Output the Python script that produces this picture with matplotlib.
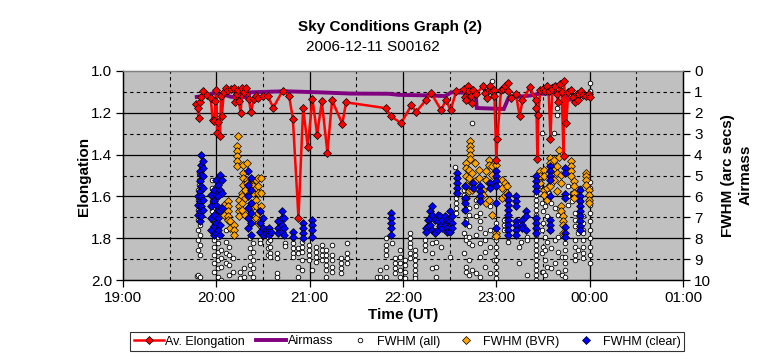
import matplotlib
matplotlib.use("Agg")
import matplotlib.pyplot as plt
from matplotlib.lines import Line2D

plt.rcParams['font.family'] = ['Liberation Sans', 'DejaVu Sans']

# ---------------- data ----------------
# Average elongation (left axis), time in decimal hours UT (24 = 00:00)
elong_t = [19.78, 19.80, 19.81, 19.82, 19.84, 19.86, 19.90, 19.94, 19.96, 19.98, 19.99, 20.00,
           20.01, 20.02, 20.04, 20.05, 20.06, 20.08, 20.10, 20.13, 20.16, 20.19, 20.20, 20.22,
           20.23, 20.24, 20.26, 20.28, 20.30, 20.32, 20.35, 20.37, 20.40, 20.43, 20.45, 20.50,
           20.55, 20.61, 20.71, 20.78, 20.82, 20.88, 20.93, 20.98, 21.03, 21.08, 21.13, 21.19,
           21.24, 21.35, 21.39, 21.82, 21.87, 21.98, 22.09, 22.14, 22.25, 22.30, 22.41, 22.46,
           22.51, 22.57, 22.65, 22.66, 22.68, 22.70, 22.71, 22.73, 22.74, 22.75, 22.78, 22.86,
           22.88, 22.90, 22.92, 22.93, 22.95, 22.97, 22.98, 23.00, 23.01, 23.05, 23.07, 23.09,
           23.12, 23.13, 23.16, 23.21, 23.25, 23.28, 23.36, 23.42, 23.43, 23.44, 23.45, 23.47,
           23.50, 23.52, 23.54, 23.56, 23.58, 23.60, 23.63, 23.65, 23.66, 23.68, 23.70, 23.72,
           23.725, 23.75, 23.77, 23.80, 23.82, 23.84, 23.86, 23.88, 23.89, 23.91, 23.93, 23.96,
           23.99, 24.00]
elong_v = [1.157, 1.178, 1.227, 1.150, 1.125, 1.097, 1.115, 1.128, 1.233, 1.240, 1.145, 1.092,
           1.295, 1.245, 1.312, 1.120, 1.215, 1.100, 1.082, 1.090, 1.085, 1.080, 1.150, 1.110,
           1.092, 1.145, 1.200, 1.080, 1.100, 1.080, 1.135, 1.198, 1.135, 1.120, 1.128, 1.122,
           1.120, 1.175, 1.095, 1.120, 1.228, 1.703, 1.178, 1.362, 1.132, 1.305, 1.145, 1.390,
           1.141, 1.252, 1.150, 1.178, 1.217, 1.249, 1.164, 1.196, 1.137, 1.105, 1.188, 1.137,
           1.188, 1.097, 1.084, 1.125, 1.141, 1.073, 1.097, 1.120, 1.153, 1.090, 1.110, 1.073,
           1.105, 1.129, 1.090, 1.073, 1.097, 1.090, 1.120, 1.425, 1.325, 1.093, 1.084, 1.073,
           1.056, 1.097, 1.130, 1.110, 1.217, 1.141, 1.077, 1.140, 1.177, 1.423, 1.209, 1.090,
           1.084, 1.097, 1.073, 1.097, 1.323, 1.084, 1.073, 1.110, 1.150, 1.060, 1.100, 1.405,
           1.049, 1.249, 1.100, 1.090, 1.125, 1.150, 1.110, 1.140, 1.110, 1.097, 1.115, 1.120,
           1.110, 1.125]

# Airmass (right axis)
airmass_t = [19.79, 19.90, 19.97, 20.02, 20.06, 20.16, 20.34, 20.36, 20.74, 21.10, 21.44,
             21.85, 21.95, 22.29, 22.45, 22.52, 22.75, 22.78, 22.79, 23.08, 23.13, 23.40,
             23.44, 23.75, 23.77, 23.88, 23.90, 24.00]
airmass_v = [1.24, 1.18, 1.05, 1.16, 1.10, 1.24, 1.24, 1.02, 0.97, 1.02, 1.08,
             1.09, 1.14, 1.17, 1.20, 1.02, 1.05, 1.20, 1.77, 1.82, 1.29, 1.15,
             1.10, 1.05, 1.37, 1.37, 1.10, 1.13]

# FWHM (all) -- columns of (time, [values])
fwhm_all = [
    (19.79, [9.80]),
    (19.80, [5.68, 6.16, 6.64, 7.12, 7.60, 8.08, 8.56, 9.77]),
    (19.81, [4.90, 5.20, 5.45]),
    (19.82, [5.92, 6.40, 6.88, 7.36, 7.84, 8.32, 8.80, 9.88]),
    (19.95, [5.20, 5.60, 6.24, 6.72, 7.12]),
    (19.98, [7.28, 7.68, 8.08, 8.40, 8.80, 9.20, 9.60]),
    (20.02, [7.36, 7.92, 8.24, 8.64, 9.04, 9.44, 9.84]),
    (20.05, [8.56, 8.96, 9.36, 10.0]),
    (20.10, [7.60, 8.16, 8.72, 9.20]),
    (20.14, [8.40, 8.80, 9.28, 9.76]),
    (20.18, [8.96, 9.60]),
    (20.25, [9.60, 9.92]),
    (20.30, [9.44, 9.84]),
    (20.36, [8.00, 8.48, 8.88, 9.28, 9.68]),
    (20.39, [8.24, 8.64, 9.04, 9.44, 9.84]),
    (20.47, [7.44, 7.68, 8.08, 8.24]),
    (20.55, [7.92, 8.16, 8.48, 8.80]),
    (20.58, [8.08, 8.40, 8.72, 8.88]),
    (20.65, [8.72, 8.96, 9.68, 9.84]),
    (20.74, [8.24, 8.36]),
    (20.82, [8.00, 8.24, 8.48, 8.72, 8.88]),
    (20.88, [8.48, 8.72, 9.40, 9.84]),
    (20.92, [8.16, 8.40, 8.64, 9.04, 9.52]),
    (20.99, [8.32, 8.56, 8.80, 9.04]),
    (21.02, [9.52]),
    (21.07, [8.40, 8.64, 8.88, 9.12]),
    (21.13, [8.32, 8.56, 8.80, 9.04]),
    (21.18, [8.56, 8.80, 9.04, 9.28, 9.52, 9.84]),
    (21.24, [8.32, 8.80, 9.04, 9.36, 9.60]),
    (21.34, [8.96, 9.20, 9.44, 9.68]),
    (21.40, [8.24, 8.72, 8.96, 9.20]),
    (21.72, [9.88]),
    (21.75, [9.52, 9.84]),
    (21.82, [8.00, 8.32, 8.56, 8.80, 9.40, 9.84]),
    (21.88, [8.24]),
    (21.91, [8.96, 9.20, 9.44, 9.68]),
    (21.97, [8.56, 8.88, 9.20, 9.52, 9.84]),
    (22.02, [9.04, 9.28, 9.60, 9.92]),
    (22.08, [7.76, 8.00, 8.24, 8.40, 8.72, 8.96]),
    (22.13, [8.56, 8.80, 9.04, 9.28, 9.52, 9.76, 9.92]),
    (22.24, [8.08, 8.32, 8.56]),
    (22.31, [8.24, 8.72, 9.44]),
    (22.35, [8.16, 9.36, 9.84]),
    (22.41, [8.40]),
    (22.50, [8.88]),
    (22.56, [4.58]),
    (22.57, [5.84, 6.08, 6.32, 6.56, 6.80]),
    (22.65, [5.68, 5.92, 6.16, 6.64, 7.76, 8.72]),
    (22.68, [6.40, 7.12, 7.92, 8.08, 9.36, 9.60]),
    (22.71, [6.56, 6.88, 7.44, 7.92, 8.24, 9.04, 9.76]),
    (22.74, [2.50, 8.32, 9.52]),
    (22.78, [6.16, 6.48, 6.96, 7.84, 9.68]),
    (22.83, [6.80, 7.20, 7.52, 8.24, 8.88, 9.84]),
    (22.88, [7.76, 8.08, 8.64, 9.36]),
    (22.93, [6.48, 7.60, 8.40, 9.68]),
    (22.95, [0.50]),
    (22.97, [6.96, 7.92, 9.04]),
    (23.00, [7.28, 8.08, 8.40, 8.72, 9.04, 9.36, 9.68, 9.92]),
    (23.08, [7.12, 7.36, 7.60]),
    (23.13, [7.92, 8.16]),
    (23.24, [8.40, 9.20]),
    (23.26, [8.16]),
    (23.33, [7.92, 8.08, 9.76]),
    (23.43, [5.68, 5.92, 6.16, 6.40, 6.64, 6.88, 7.12, 7.36, 7.60, 7.84, 8.08, 8.32,
             8.56, 8.80, 9.04, 9.28, 9.52, 9.76, 10.0]),
    (23.47, [5.20, 5.50]),
    (23.49, [2.97, 6.32, 7.60, 8.72, 9.60]),
    (23.50, [6.72, 7.28, 8.40, 9.60]),
    (23.52, [6.48, 7.92, 8.56, 9.04, 9.76]),
    (23.54, [6.96, 8.16, 9.36]),
    (23.56, [5.44, 5.84]),
    (23.59, [6.32, 7.60, 8.48, 9.44]),
    (23.60, [4.90, 5.36]),
    (23.61, [0.70]),
    (23.62, [2.97]),
    (23.63, [6.56, 8.08, 9.20]),
    (23.65, [1.77, 2.09]),
    (23.66, [6.88, 7.92, 8.64, 9.60]),
    (23.70, [6.80, 8.88, 9.76]),
    (23.74, [7.92, 8.24, 8.56, 8.88, 9.20, 9.52, 9.84]),
    (23.77, [5.52, 6.00, 6.40]),
    (23.81, [5.84, 6.24]),
    (23.84, [6.80, 7.12, 7.44, 8.08, 8.40, 8.80, 9.04]),
    (23.87, [7.76, 8.56]),
    (23.90, [5.60, 6.16, 6.48]),
    (23.93, [6.96, 7.28, 7.60, 7.76, 8.08, 8.40, 8.72, 8.96]),
    (24.00, [0.57, 0.97, 5.30, 5.60, 6.00, 6.40, 6.80, 7.20, 7.60, 8.00, 8.40, 8.80, 9.20]),
]

# FWHM (BVR)
fwhm_bvr = [
    (20.08, [6.40, 6.90]),
    (20.12, [6.24, 6.48, 6.72, 6.96, 7.12]),
    (20.15, [7.20, 7.50]),
    (20.19, [7.36, 7.60, 7.84]),
    (20.22, [3.61, 3.85, 4.08, 4.32, 4.53]),
    (20.235, [3.13]),
    (20.24, [6.16, 6.48, 6.72, 6.96]),
    (20.27, [5.84, 6.00, 6.32, 6.64]),
    (20.29, [4.48, 4.88, 5.12, 5.44]),
    (20.31, [5.68, 6.08, 6.88]),
    (20.33, [4.40, 5.20, 5.36]),
    (20.39, [5.20, 5.52, 5.84, 6.48]),
    (20.42, [5.20, 5.60, 6.16, 6.48, 7.04]),
    (20.45, [5.12, 5.52, 5.84, 6.80, 7.28]),
    (20.48, [5.12, 5.84, 6.48, 7.12]),
    (22.68, [4.40, 4.64, 5.04, 5.44, 6.08]),
    (22.71, [4.72, 5.12, 5.76]),
    (22.72, [3.37, 3.57, 3.77, 4.00, 4.21]),
    (22.74, [4.88, 5.36, 5.68]),
    (22.77, [4.40, 5.28]),
    (22.81, [4.72, 5.12, 6.08]),
    (22.86, [5.68, 5.92]),
    (22.89, [4.80, 5.20, 6.32]),
    (22.92, [4.24, 4.48, 5.36, 6.16]),
    (22.95, [4.56, 4.96, 5.52, 6.88]),
    (23.00, [4.48, 7.76, 7.88]),
    (23.06, [5.20, 5.60, 6.08]),
    (23.09, [5.36, 5.92]),
    (23.11, [5.52, 5.84]),
    (23.47, [4.80, 5.04, 5.36]),
    (23.51, [4.72, 5.04, 5.68, 5.92]),
    (23.54, [5.60, 6.16]),
    (23.58, [4.16, 4.40, 5.52]),
    (23.62, [4.24, 4.72, 5.20]),
    (23.65, [4.56, 4.88, 5.76]),
    (23.67, [3.78, 4.10]),
    (23.69, [4.96, 5.36, 6.48, 6.72]),
    (23.71, [6.96, 7.20, 7.36, 7.76]),
    (23.80, [4.32, 4.56, 4.80, 5.04]),
    (23.83, [5.28, 5.52, 5.84, 6.08]),
    (23.96, [4.88, 5.04, 5.20, 5.44]),
    (23.99, [5.68, 5.92, 6.16, 6.32]),
]

# FWHM (clear)
fwhm_clear = [
    (19.80, [6.00, 6.40, 6.88]),
    (19.82, [4.80, 5.28, 5.76, 6.24, 6.72, 7.20]),
    (19.84, [4.00, 4.48, 4.96, 5.52, 6.00, 6.48, 6.96]),
    (19.86, [4.32, 4.64, 5.04, 5.60, 6.16, 6.64]),
    (19.94, [5.92, 6.48, 7.04, 7.60]),
    (19.97, [5.68, 6.24, 6.88, 7.44, 7.84]),
    (20.00, [5.20, 5.92, 6.40, 7.28, 7.76]),
    (20.02, [5.44, 6.00, 6.64, 7.04, 7.60]),
    (20.04, [4.96, 5.68, 6.72, 7.36, 7.84]),
    (20.06, [5.20, 5.84, 6.56]),
    (20.34, [4.80, 5.44, 6.00, 6.56, 7.04, 7.52]),
    (20.37, [5.12, 5.68, 6.32, 6.80, 7.28, 7.84]),
    (20.47, [6.72, 7.28, 7.68]),
    (20.50, [7.04, 7.52, 7.84]),
    (20.53, [7.60, 7.76]),
    (20.56, [7.52, 7.68, 7.84]),
    (20.59, [7.68]),
    (20.66, [7.20, 7.50, 7.76]),
    (20.70, [6.72, 7.04, 7.36, 7.68]),
    (20.73, [7.04, 7.52, 7.84]),
    (20.82, [7.68, 7.92]),
    (20.93, [7.28, 7.52, 7.76, 8.00]),
    (21.03, [7.12, 7.36, 7.60, 7.92]),
    (21.87, [6.80, 7.04, 7.28, 7.52, 7.84]),
    (22.25, [7.52, 7.68]),
    (22.27, [7.12, 7.44]),
    (22.29, [6.72, 7.04, 7.36]),
    (22.31, [6.48, 6.88, 7.60]),
    (22.34, [7.12, 7.68, 7.76]),
    (22.37, [6.88, 7.20, 7.60]),
    (22.40, [6.96, 7.44]),
    (22.42, [7.12, 7.52]),
    (22.45, [6.96, 7.36]),
    (22.47, [7.12, 7.52, 7.68]),
    (22.50, [6.72, 7.20, 7.68]),
    (22.52, [6.96, 7.28, 7.52]),
    (22.575, [4.88, 5.12, 5.36, 5.60, 5.84]),
    (22.66, [5.52, 6.08, 6.32, 6.64, 7.28]),
    (22.75, [5.36, 5.60]),
    (22.83, [5.52, 5.76, 6.00, 6.24]),
    (22.93, [5.36, 5.60]),
    (23.00, [4.80, 5.04, 5.28, 5.52, 6.32, 7.52]),
    (23.13, [5.92, 6.16, 6.40, 6.64, 6.88, 7.12, 7.36, 7.60, 7.84]),
    (23.21, [6.00, 6.24, 6.48, 7.20, 7.36, 7.60, 7.84]),
    (23.28, [7.12, 7.36, 7.52]),
    (23.32, [6.72, 6.96, 7.60]),
    (23.43, [5.04, 5.28, 5.52, 5.76, 7.04, 7.28, 7.52, 7.76]),
    (23.57, [4.56, 4.80, 5.04, 5.20, 6.00, 7.12, 7.36, 7.60]),
    (23.74, [4.66, 4.90, 5.87, 6.10, 7.48, 7.76, 7.92]),
    (23.90, [5.68, 6.00, 6.24, 6.48, 6.72, 6.96, 7.20, 7.44, 7.60]),
]

x_ticks = [19, 20, 21, 22, 23, 24, 25]
x_labels = ["19:00", "20:00", "21:00", "22:00", "23:00", "00:00", "01:00"]
left_ticks = [1.0, 1.2, 1.4, 1.6, 1.8, 2.0]
right_ticks = list(range(0, 11))


def flatten(cols):
    xs, ys = [], []
    for t, vals in cols:
        for v in vals:
            xs.append(t)
            ys.append(v)
    return xs, ys


# ---------------- figure ----------------
W, H = 765, 360
fig = plt.figure(figsize=(W / 100, H / 100), dpi=100)
fig.patch.set_facecolor('white')

left, right, top, bottom = 123, 683, 71, 280
ax = fig.add_axes([left / W, 1 - bottom / H, (right - left) / W, (bottom - top) / H])
ax2 = ax.twinx()

ax.set_zorder(3)
ax2.set_zorder(2)
ax.patch.set_visible(False)
ax2.patch.set_visible(True)
ax2.patch.set_facecolor('#C0C0C0')

ax.set_xlim(19, 25)
ax.set_ylim(2.0, 1.0)
ax2.set_ylim(10, 0)

# grid on ax2
for v in range(1, 10):
    if v % 2 == 0:
        ax2.axhline(v, color='black', lw=0.9, zorder=1)
    else:
        ax2.axhline(v, color='black', lw=0.8, ls=(0, (3, 3)), zorder=1)
for h in [19.5, 20, 20.5, 21, 21.5, 22, 22.5, 23, 23.5, 24, 24.5]:
    if float(h).is_integer():
        ax2.axvline(h, color='black', lw=0.9, zorder=1)
    else:
        ax2.axvline(h, color='black', lw=0.8, ls=(0, (3, 3)), zorder=1)

ax_x, ax_y = flatten(fwhm_all)
ax2.scatter(ax_x, ax_y, s=11, marker='o', facecolor='white', edgecolor='black',
            linewidths=0.6, zorder=3)
bx, by = flatten(fwhm_bvr)
ax2.scatter(bx, by, s=16, marker='D', facecolor='#FFA500', edgecolor='black',
            linewidths=0.5, zorder=4)
cx, cy = flatten(fwhm_clear)
ax2.scatter(cx, cy, s=16, marker='D', facecolor='#0000FF', edgecolor='black',
            linewidths=0.5, zorder=5)
ax2.plot(airmass_t, airmass_v, color='#800080', lw=2.8, zorder=6, solid_joinstyle='miter')

ax.plot(elong_t, elong_v, color='#FF0000', lw=1.8, marker='D', ms=3.6,
        mfc='#FF0000', mec='black', mew=0.5, zorder=7)

# ticks and spines
tick_font = 11
ax.set_xticks(x_ticks)
ax.set_xticklabels(x_labels, fontsize=tick_font)
ax.set_yticks(left_ticks)
ax.set_yticklabels([f"{t:.1f}" for t in left_ticks], fontsize=tick_font)
ax2.set_yticks(right_ticks)
ax2.set_yticklabels([str(t) for t in right_ticks], fontsize=tick_font)
for a in (ax, ax2):
    a.tick_params(direction='out', length=5, width=0.9, color='black', pad=3)
    for s in a.spines.values():
        s.set_linewidth(0.9)
        s.set_color('black')
    a.spines['top'].set_color('#808080')

ax.set_xlabel("Time (UT)", fontsize=11, fontweight='bold', labelpad=2)
fig.text(84 / W, 1 - 176 / H, "Elongation", rotation=90, fontsize=11,
         fontweight='bold', ha='center', va='center')

fig.text(728 / W, 1 - 176 / H, "FWHM (arc secs)", rotation=90, fontsize=11,
         fontweight='bold', ha='center', va='center')
fig.text(746 / W, 1 - 175 / H, "Airmass", rotation=90, fontsize=11,
         fontweight='bold', ha='center', va='center')

fig.text(390 / W, 1 - 27 / H, "Sky Conditions Graph (2)", fontsize=11,
         fontweight='bold', ha='center', va='center')
fig.text(373 / W, 1 - 47 / H, "2006-12-11 S00162", fontsize=11,
         ha='center', va='center')

handles = [
    Line2D([], [], color='#FF0000', lw=1.8, marker='D', ms=3.6, mfc='#FF0000',
           mec='black', mew=0.5),
    Line2D([], [], color='#800080', lw=2.8),
    Line2D([], [], ls='none', marker='o', ms=3.3, mfc='white', mec='black', mew=0.6),
    Line2D([], [], ls='none', marker='D', ms=3.6, mfc='#FFA500', mec='black', mew=0.5),
    Line2D([], [], ls='none', marker='D', ms=3.6, mfc='#0000FF', mec='black', mew=0.5),
]
labels = ["Av. Elongation", "Airmass", "FWHM (all)", "FWHM (BVR)", "FWHM (clear)"]
leg = fig.legend(handles, labels, loc='center', bbox_to_anchor=(407 / W, 1 - 341.5 / H),
                 ncol=5, fontsize=9, frameon=True, fancybox=False, edgecolor='black',
                 handlelength=2.4, handletextpad=0.15, columnspacing=0.9,
                 borderpad=0.3, borderaxespad=0)
leg.get_frame().set_linewidth(0.8)

fig.savefig("out.png", dpi=100, facecolor='white')
